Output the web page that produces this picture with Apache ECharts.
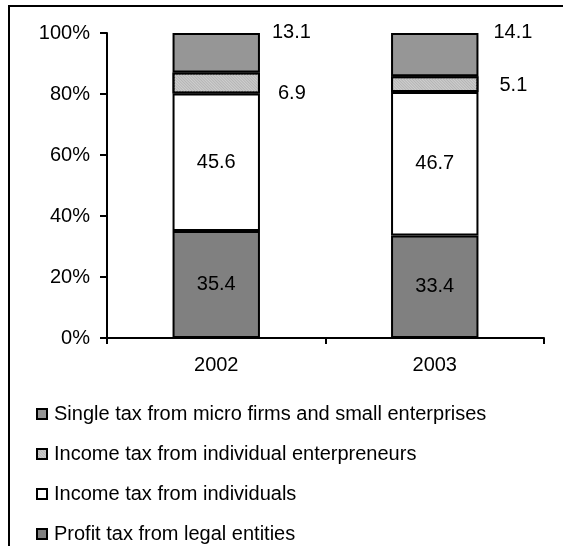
<!doctype html>
<html>
<head>
<meta charset="utf-8">
<style>
  html,body{margin:0;padding:0;background:#fff;}
  #main{width:563px;height:546px;}
</style>
</head>
<body>
<div id="main"></div>
<script src="https://cdn.jsdelivr.net/npm/echarts@6/dist/echarts.min.js"></script>
<script>
var years = ['2002', '2003'];
var profitTax = [35.4, 33.4];
var individualsTax = [45.6, 46.7];
var entrepreneursTax = [6.9, 5.1];
var singleTax = [13.1, 14.1];
var yTicks = [0, 20, 40, 60, 80, 100];

// 100% stacked: share of each year's total
function share(arr){
  return arr.map(function(v, i){
    var total = profitTax[i] + individualsTax[i] + entrepreneursTax[i] + singleTax[i];
    return { value: v / total * 100, raw: v };
  });
}

var font = 'Liberation Sans, Arial, sans-serif';
var fs = 20;

function seriesOf(name, arr, color, label, decal){
  var style = { color: color, borderColor: '#000', borderWidth: 2 };
  if (decal) style.decal = decal;
  return {
    name: name,
    type: 'bar',
    stack: 'all',
    barWidth: '40%',
    data: share(arr),
    itemStyle: style,
    label: label,
    emphasis: { disabled: true }
  };
}

var innerLabel = {
  show: true, position: 'inside', color: '#000', fontSize: fs, fontFamily: font,
  formatter: function(p){ return p.data.raw; }
};

var sideLabel = {
  show: true, position: 'right', color: '#000', fontSize: fs, fontFamily: font,
  distance: 12,
  formatter: function(p){ return p.data.raw; }
};

var chart = echarts.init(document.getElementById('main'));

var sSingle = seriesOf('Single tax from micro firms and small enterprises', singleTax, '#969696', sideLabel);
sSingle.data[0].label = { offset: [0, -20] };
sSingle.data[1].label = { offset: [3, -22] };
var sEntr = seriesOf('Income tax from individual enterpreneurs', entrepreneursTax, '#cfcfcf', sideLabel,
  { symbol: 'rect', symbolSize: 1, dashArrayX: [1, 0], dashArrayY: [1, 1], rotation: Math.PI / 4, color: '#b4b4b4' });
sEntr.data[0].label = { offset: [6, 11] };
sEntr.data[1].label = { offset: [9, 1] };

chart.setOption({
  backgroundColor: '#fff',
  animation: false,
  textStyle: { fontFamily: font },
  grid: { left: 107, top: 33, right: 19, bottom: 208 },
  xAxis: {
    type: 'category',
    data: years,
    axisLine: { lineStyle: { color: '#000', width: 2 } },
    axisTick: { show: true, length: 6, lineStyle: { color: '#000', width: 2 } },
    axisLabel: { color: '#000', fontSize: fs, fontFamily: font, margin: 17 }
  },
  yAxis: {
    type: 'value',
    min: 0, max: 100, interval: 20,
    axisLine: { show: true, lineStyle: { color: '#000', width: 2 } },
    axisTick: { show: true, inside: false, length: 7, lineStyle: { color: '#000', width: 2 } },
    axisLabel: { color: '#000', fontSize: fs, fontFamily: font, margin: 17,
      formatter: function(v){ return yTicks.indexOf(v) >= 0 ? v + '%' : ''; } },
    splitLine: { show: false }
  },
  legend: {
    orient: 'vertical',
    left: 36, top: 404, height: 160,
    padding: 0,
    itemWidth: 10, itemHeight: 10,
    itemGap: 20,
    icon: 'rect',
    textStyle: { color: '#000', fontSize: fs, fontFamily: font, padding: [0, 0, 0, 2] },
    selectedMode: false,
    data: [
      'Single tax from micro firms and small enterprises',
      'Income tax from individual enterpreneurs',
      'Income tax from individuals',
      'Profit tax from legal entities'
    ]
  },
  graphic: [{
    type: 'rect',
    shape: { x: 9, y: 6, width: 700, height: 700 },
    style: { fill: 'none', stroke: '#000', lineWidth: 2 },
    silent: true
  }],
  series: [
    seriesOf('Profit tax from legal entities', profitTax, '#808080', innerLabel),
    seriesOf('Income tax from individuals', individualsTax, '#ffffff', innerLabel),
    sEntr,
    sSingle
  ]
});
</script>
</body>
</html>
